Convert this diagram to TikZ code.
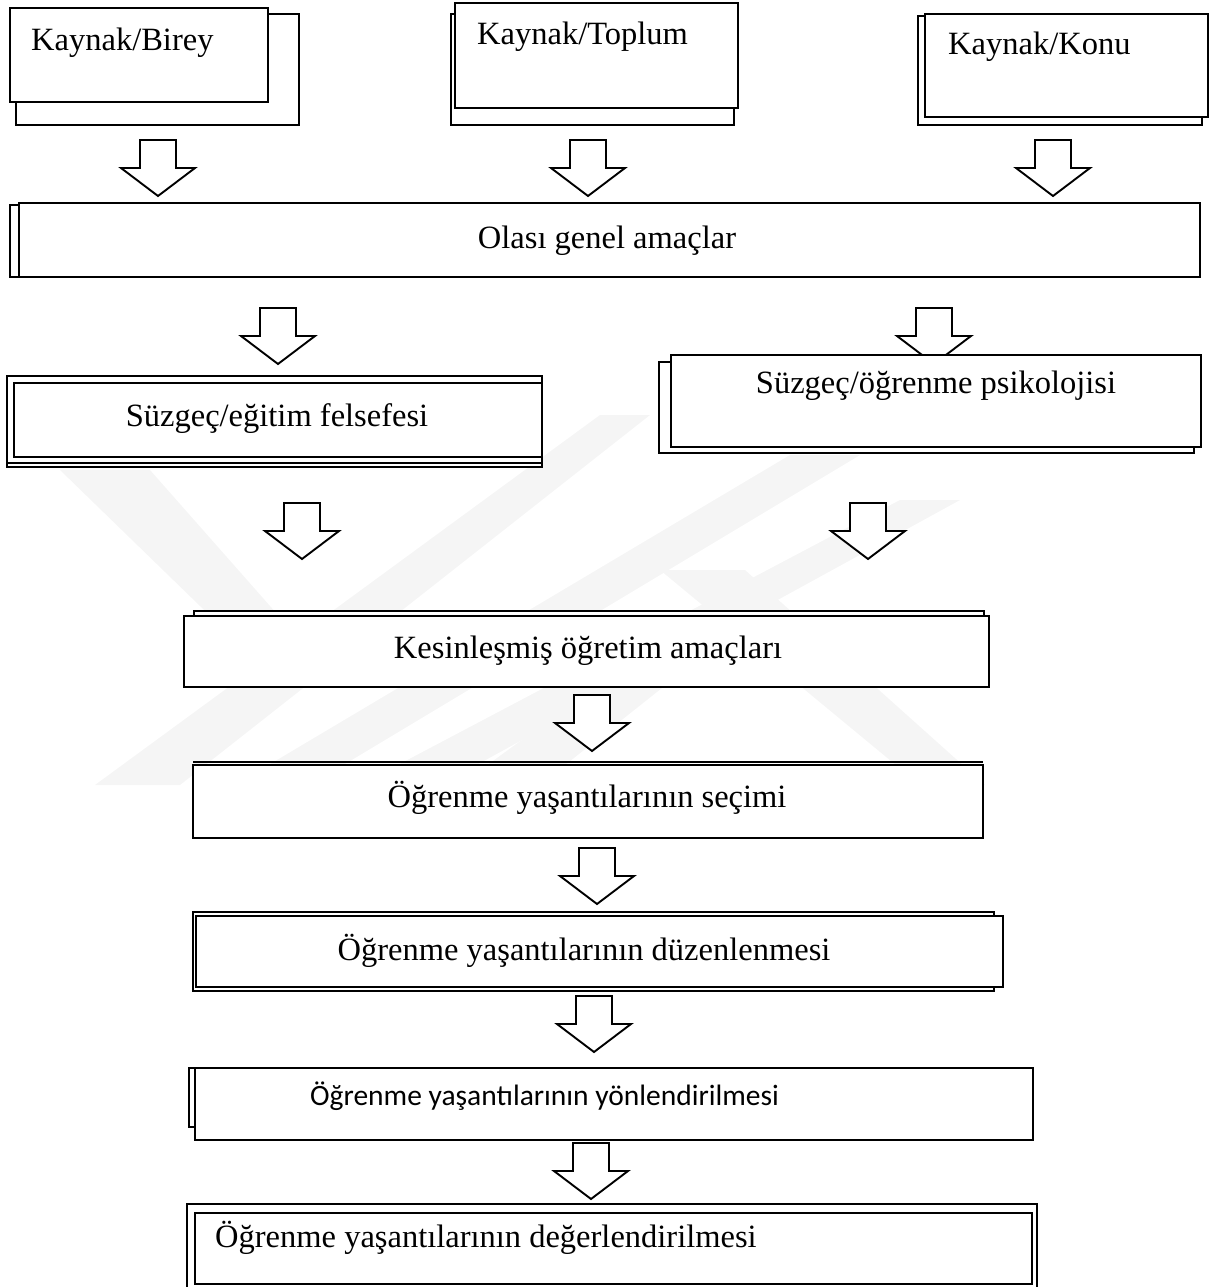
\documentclass[tikz,border=0pt]{standalone}
\usepackage{fontspec}
\setmainfont{Liberation Serif}
\newfontfamily\calibrifont{Carlito}
\begin{document}
\begin{tikzpicture}[x=1pt,y=-1pt,
  boxline/.style={draw=black,line width=2.6pt,fill=white},
  backline/.style={draw=black,line width=2pt,fill=white},
  arrowline/.style={draw=black,line width=1.9pt,fill=white,line join=miter},
  lbl/.style={inner sep=0pt,font=\fontsize{32.5}{38}\selectfont},
  lblsans/.style={inner sep=0pt,font=\calibrifont\fontsize{29.5}{34}\selectfont},
  emblem/.style={fill=gray!8,draw=none},
  barrow/.pic={\path[arrowline] (-18,0) -- (18,0) -- (18,28) -- (37,28) -- (0,56) -- (-37,28) -- (-18,28) -- cycle;}
]
\useasboundingbox (0,0) rectangle (1221,1287);

% faint background emblem of diagonal stripes
\path[emblem] (95,785) -- (180,785) -- (650,415) -- (600,415) -- cycle;
\path[emblem] (235,785) -- (310,785) -- (860,455) -- (790,455) -- cycle;
\path[emblem] (360,785) -- (440,785) -- (960,500) -- (900,500) -- cycle;
\path[emblem] (460,785) -- (540,785) -- (760,610) -- (700,610) -- cycle;
\path[emblem] (660,570) -- (745,570) -- (985,785) -- (920,785) -- cycle;
\path[emblem] (60,470) -- (150,470) -- (300,640) -- (235,640) -- cycle;

% ---- sources ----
\path[backline] (16,14) rectangle (299,125);
\path[boxline] (10,8) rectangle (268,102);
\node[lbl,anchor=base west] (birey) at (31,51) {Kaynak/Birey};

\path[backline] (451,14) rectangle (734,125);
\path[boxline] (455,3) rectangle (738,108);
\node[lbl,anchor=base west] (toplum) at (477,45) {Kaynak/Toplum};

\path[backline] (918,16) rectangle (1202,125);
\path[boxline] (925,14) rectangle (1208,117);
\node[lbl,anchor=base west] (konu) at (948,55) {Kaynak/Konu};

\pic (a1) at (158,140) {barrow};
\pic (a2) at (588,140) {barrow};
\pic (a3) at (1053,140) {barrow};

% ---- possible general aims ----
\path[backline,line width=1.4pt] (10,205) rectangle (1195,277);
\path[boxline] (19,203) rectangle (1200,277);
\node[lbl,anchor=base] (olasi) at (607,248) {Olası genel amaçlar};

\pic (a4) at (278,308) {barrow};
\pic (a5) at (934,308) {barrow};

% ---- filters ----
\path[backline] (7,376) rectangle (542,467);
\path[backline] (7,376) rectangle (542,463);
\path[boxline] (14,383) rectangle (542,457);
\node[lbl,anchor=base] (felsefe) at (277,426) {Süzgeç/eğitim felsefesi};

\path[backline] (659,362) rectangle (1194,453);
\path[boxline] (671,355) rectangle (1201,447);
\node[lbl,anchor=base] (psikoloji) at (936,393) {Süzgeç/öğrenme psikolojisi};

\pic (a6) at (302,503) {barrow};
\pic (a7) at (868,503) {barrow};

% ---- instructional aims ----
\path[backline] (194,611) rectangle (984,680);
\path[boxline] (184,616) rectangle (989,687);
\node[lbl,anchor=base] (kesin) at (588,658) {Kesinleşmiş öğretim amaçları};

\pic (a8) at (592,695) {barrow};

\path[boxline] (193,765) rectangle (983,838);
\draw[line width=1.8pt] (193,762) -- (983,762);
\node[lbl,anchor=base] (secim) at (587,807) {Öğrenme yaşantılarının seçimi};

\pic (a9) at (597,848) {barrow};

\path[backline] (193,912) rectangle (994,991);
\path[boxline] (196,916) rectangle (1003,987);
\node[lbl,anchor=base] (duzen) at (584,960) {Öğrenme yaşantılarının düzenlenmesi};

\pic (a10) at (594,996) {barrow};

\path[backline] (189,1068) rectangle (1020,1127);
\path[boxline] (195,1068) rectangle (1033,1140);
\node[lblsans,anchor=base west] (yon) at (310,1105) {Öğrenme yaşantılarının yönlendirilmesi};

\pic (a11) at (591,1143) {barrow};

\path[backline] (187,1204) rectangle (1037,1292);
\path[boxline] (195,1213) rectangle (1032,1284);
\node[lbl,anchor=base west] (deger) at (215,1247) {Öğrenme yaşantılarının değerlendirilmesi};
\end{tikzpicture}
\end{document}
